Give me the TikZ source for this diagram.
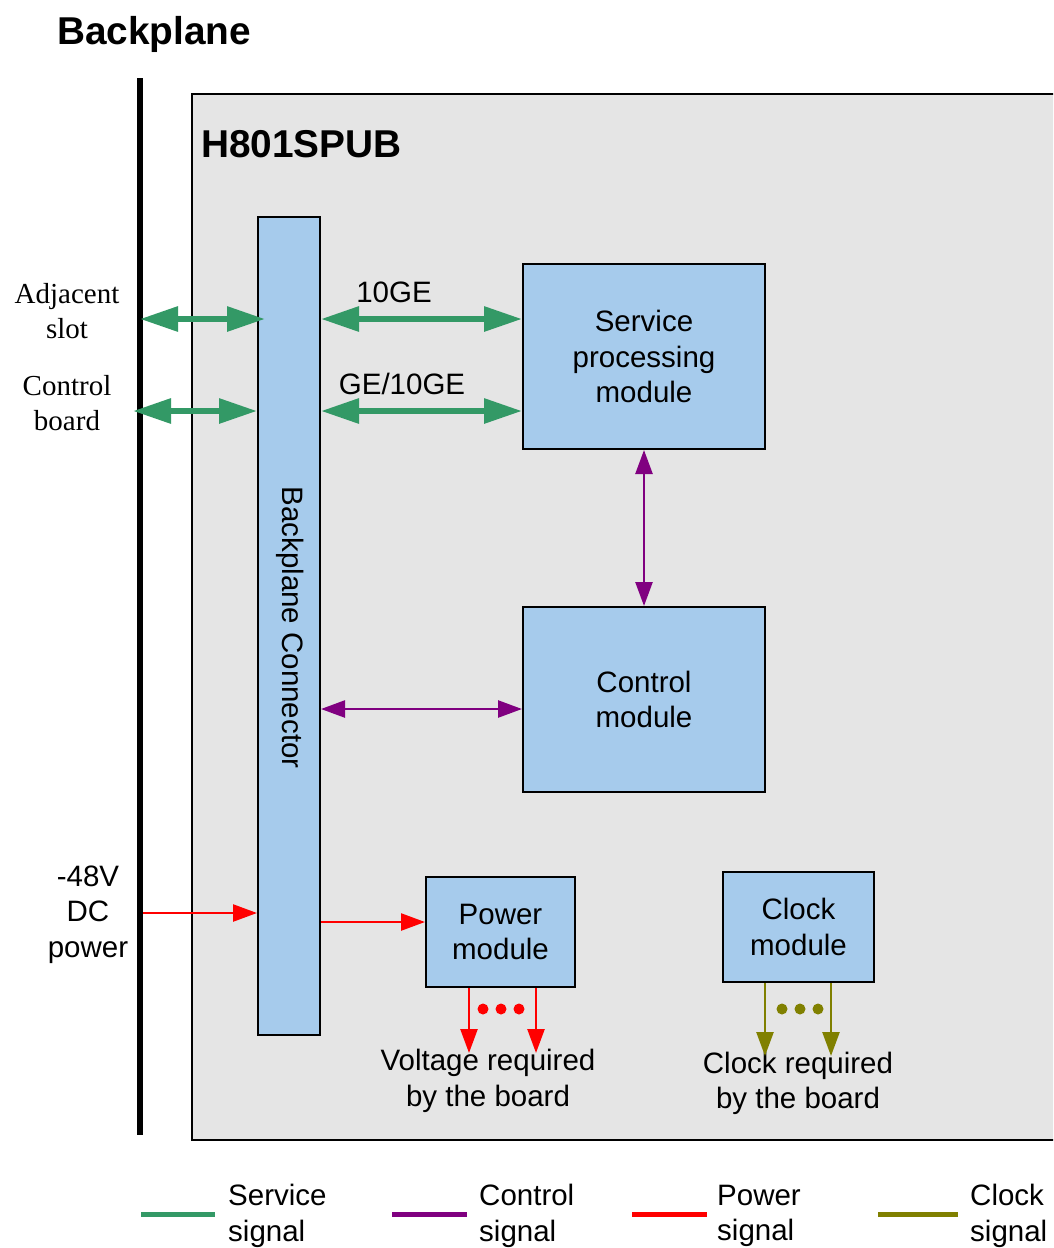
\documentclass[tikz,border=0pt]{standalone}
\usepackage{fontspec}
\setmainfont{Liberation Sans}
\newfontfamily\serifx{Liberation Serif}
\usetikzlibrary{arrows.meta}
\definecolor{svcgreen}{RGB}{51,153,102}
\definecolor{ctlpurple}{RGB}{128,0,128}
\definecolor{clkolive}{RGB}{128,128,0}
\definecolor{boardgray}{RGB}{229,229,229}
\definecolor{boxblue}{RGB}{166,203,236}
\tikzset{
  box/.style={draw=black, line width=2pt, fill=boxblue, inner sep=0pt, align=center,
    font=\fontsize{29.5}{35.5}\selectfont},
  svc/.style={draw=svcgreen, line width=6pt, {Triangle[length=38pt,width=24pt]}-{Triangle[length=38pt,width=24pt]}},
  ctl/.style={draw=ctlpurple, line width=2.5pt, {Triangle[length=24pt,width=17pt]}-{Triangle[length=24pt,width=17pt]}},
  pwr/.style={draw=red, line width=2.5pt, -{Triangle[length=24pt,width=17pt]}},
  clk/.style={draw=clkolive, line width=2.5pt, -{Triangle[length=24pt,width=17pt]}},
  lbl/.style={inner sep=0pt, align=center, font=\fontsize{29.5}{35.5}\selectfont},
  slbl/.style={inner sep=0pt, align=center, font=\serifx\fontsize{29}{35}\selectfont},
  leg/.style={line width=5pt},
}
\begin{document}
\begin{tikzpicture}[x=1pt,y=-1pt]
\clip (0,0) rectangle (1053,1248);
\fill[white] (0,0) rectangle (1053,1248);
% title
\node[inner sep=0pt, anchor=west, font=\bfseries\fontsize{38.8}{40}\selectfont] (title) at (57,34) {Backplane};
% board
\node[draw=black, line width=2pt, fill=boardgray, inner sep=0pt, minimum width=880pt, minimum height=1046pt] (board) at (632,617) {};
\node[inner sep=0pt, anchor=west, font=\bfseries\fontsize{38.8}{40}\selectfont] (bname) at (201,144) {H801SPUB};
% backplane line
\node[fill=black, inner sep=0pt, minimum width=6pt, minimum height=1057pt] (bp) at (140,606.5) {};
% connector
\node[box, minimum width=62pt, minimum height=818pt] (conn) at (289,626) {};
\node[lbl, rotate=-90] (conntext) at (290,627.5) {Backplane Connector};
% modules
\node[box, minimum width=242pt, minimum height=185pt] (spm) at (644,356.5) {Service\\processing\\module};
\node[box, minimum width=242pt, minimum height=185pt] (cm) at (644,699.5) {Control\\module};
\node[box, minimum width=149pt, minimum height=110pt] (pm) at (500.5,932) {Power\\module};
\node[box, minimum width=151pt, minimum height=110pt] (ck) at (798.5,927) {Clock\\module};
% labels
\node[slbl] (adj) at (67,311.5) {Adjacent\\slot};
\node[slbl] (cb) at (67,403.5) {Control\\board};
\node[lbl] (dc) at (88,914.5) {-48V\\DC\\power};
\node[lbl] (l10) at (394,292) {10GE};
\node[lbl] (lge) at (402,384) {GE/10GE};
\node[lbl] (vreq) at (488,1081) {Voltage required\\by the board};
\node[lbl] (creq) at (798,1083.5) {Clock required\\by the board};
% coordinates
\coordinate (y319) at (0,319);
\coordinate (y411) at (0,411);
\coordinate (y709) at (0,709);
\coordinate (y913) at (0,913);
\coordinate (y922) at (0,922);
\coordinate (a1) at (140,319);
\coordinate (a2) at (265,319);
\coordinate (b1) at (133,411);
% service arrows
\draw[svc] (a1) -- (a2);
\draw[svc] (b1) -- (conn.west |- y411);
\draw[svc] (conn.east |- y319) -- (spm.west |- y319);
\draw[svc] (conn.east |- y411) -- (spm.west |- y411);
% control arrows
\draw[ctl] (spm.south) -- (cm.north);
\draw[ctl] (conn.east |- y709) -- (cm.west |- y709);
% power arrows
\draw[pwr] (bp.east |- y913) -- (conn.west |- y913);
\draw[pwr] (conn.east |- y922) -- (pm.west |- y922);
\coordinate (v1) at (469,1053);
\coordinate (v2) at (536,1053);
\draw[pwr] (v1 |- pm.south) -- (v1);
\draw[pwr] (v2 |- pm.south) -- (v2);
\foreach \x in {483,501,519} \fill[red] (\x,1009) circle (5.5pt);
% clock arrows
\coordinate (k1) at (765,1056);
\coordinate (k2) at (831,1056);
\draw[clk] (k1 |- ck.south) -- (k1);
\draw[clk] (k2 |- ck.south) -- (k2);
\foreach \x in {782,800,818} \fill[clkolive] (\x,1009) circle (5.5pt);
% legend
\coordinate (g1) at (141,1214); \coordinate (g2) at (215,1214);
\coordinate (p1) at (392,1214); \coordinate (p2) at (467,1214);
\coordinate (r1) at (632,1214); \coordinate (r2) at (707,1214);
\coordinate (o1) at (878,1214); \coordinate (o2) at (958,1214);
\draw[leg, svcgreen] (g1) -- (g2);
\draw[leg, ctlpurple] (p1) -- (p2);
\draw[leg, red] (r1) -- (r2);
\draw[leg, clkolive] (o1) -- (o2);
\node[lbl, anchor=west, align=left] (lg1) at (228,1216) {Service\\signal};
\node[lbl, anchor=west, align=left] (lg2) at (479,1216) {Control\\signal};
\node[lbl, anchor=west, align=left] (lg3) at (717,1216) {Power\\signal};
\node[lbl, anchor=west, align=left] (lg4) at (970,1216) {Clock\\signal};
\end{tikzpicture}
\end{document}
